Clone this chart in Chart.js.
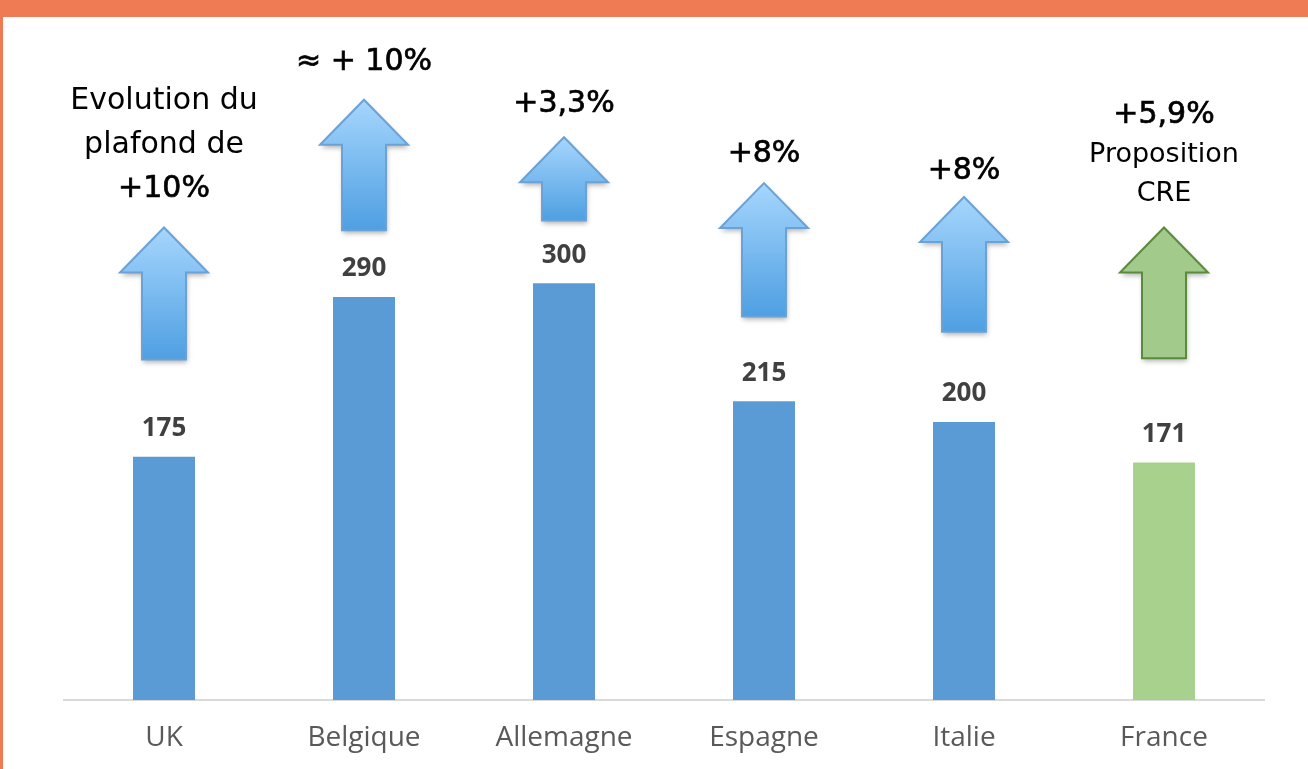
<!DOCTYPE html>
<html>
<head>
<meta charset="utf-8">
<script src="https://cdn.jsdelivr.net/npm/chart.js@4.4.1/dist/chart.umd.min.js"></script>
<style>
html,body{margin:0;padding:0;background:#fff;}
canvas{display:block;}
</style>
</head>
<body>
<canvas id="c" width="1308" height="769"></canvas>
<script>
// ---- data ----
const categories = ['UK', 'Belgique', 'Allemagne', 'Espagne', 'Italie', 'France'];
const plafonds = [175, 290, 300, 215, 200, 171];
const evolutionTexts = [
  ['Evolution du', 'plafond de', '+10%'],
  ['\u2248 + 10%'],
  ['+3,3%'],
  ['+8%'],
  ['+8%'],
  ['+5,9%', 'Proposition', 'CRE']
];
const arrowBase = [245, 338, 345, 276, 265, 246];
const arrowTip = [340, 432, 405, 372, 362, 340];
const isProposal = [false, false, false, false, false, true];

const BLUE = '#5b9bd5', GREEN = '#a9d18e';
const textGap = [38, 37, 33, 29, 26, 34]; // px between arrow tip and its caption

const decorPlugin = {
  id: 'decor',
  beforeDraw(chart) {
    const ctx = chart.ctx;
    ctx.save();
    ctx.fillStyle = '#ffffff';
    ctx.fillRect(0, 0, chart.width, chart.height);
    ctx.fillStyle = '#ef7b54';
    ctx.fillRect(0, 0, chart.width, 17);
    ctx.fillRect(0, 0, 3, chart.height);
    ctx.restore();
  },
  afterDatasetsDraw(chart) {
    const ctx = chart.ctx;
    const xs = chart.scales.x, ys = chart.scales.y;
    const meta = chart.getDatasetMeta(0);
    ctx.save();
    // value labels
    ctx.fillStyle = '#404040';
    ctx.font = 'bold 26px "Open Sans"';
    ctx.textAlign = 'center';
    ctx.textBaseline = 'middle';
    meta.data.forEach((bar, i) => {
      ctx.fillText(String(plafonds[i]), bar.x, bar.y - 28);
    });
    // arrows
    categories.forEach((c, i) => {
      const x = xs.getPixelForValue(i);
      const yt = ys.getPixelForValue(arrowTip[i]);
      const yb = ys.getPixelForValue(arrowBase[i]);
      const headH = 45, headW = 44, shaftW = 22;
      ctx.save();
      ctx.beginPath();
      ctx.moveTo(x, yt);
      ctx.lineTo(x + headW, yt + headH);
      ctx.lineTo(x + shaftW, yt + headH);
      ctx.lineTo(x + shaftW, yb);
      ctx.lineTo(x - shaftW, yb);
      ctx.lineTo(x - shaftW, yt + headH);
      ctx.lineTo(x - headW, yt + headH);
      ctx.closePath();
      let fill, stroke;
      if (isProposal[i]) {
        fill = '#a2cb8b';
        stroke = '#5a8a3c';
      } else {
        const g = ctx.createLinearGradient(0, yt, 0, yb);
        g.addColorStop(0, '#a6d6fd');
        g.addColorStop(1, '#4e9fe2');
        fill = g;
        stroke = '#6aa2d6';
      }
      ctx.shadowColor = 'rgba(0,0,0,0.3)';
      ctx.shadowBlur = 5;
      ctx.shadowOffsetX = 1;
      ctx.shadowOffsetY = 3;
      ctx.fillStyle = fill;
      ctx.fill();
      ctx.shadowColor = 'transparent';
      ctx.lineWidth = 2;
      ctx.strokeStyle = stroke;
      ctx.stroke();
      ctx.restore();
      // texts above arrow
      const lines = evolutionTexts[i];
      ctx.fillStyle = '#000000';
      ctx.strokeStyle = '#000000';
      ctx.textAlign = 'center';
      ctx.textBaseline = 'middle';
      let y = yt - textGap[i];
      for (let k = lines.length - 1; k >= 0; k--) {
        const t = lines[k];
        const isPct = t.indexOf('%') >= 0;
        if (isProposal[i] && !isPct) {
          ctx.font = '27px "DejaVu Sans"';
        } else {
          ctx.font = '30px "DejaVu Sans"';
        }
        ctx.fillText(t, x, y);
        if (isPct) {
          ctx.lineWidth = 0.7;
          ctx.strokeText(t, x, y);
        }
        y -= isProposal[i] ? 39 : 44;
      }
    });
    ctx.restore();
  }
};

new Chart(document.getElementById('c'), {
  type: 'bar',
  data: {
    labels: categories,
    datasets: [{
      data: plafonds,
      backgroundColor: isProposal.map(p => p ? GREEN : BLUE),
      barPercentage: 0.31,
      categoryPercentage: 1.0
    }]
  },
  options: {
    responsive: false,
    animation: false,
    devicePixelRatio: 1,
    layout: { padding: { left: 64, right: 44, top: 33, bottom: 14 } },
    plugins: { legend: { display: false }, tooltip: { enabled: false } },
    scales: {
      x: {
        grid: { display: false, drawTicks: false },
        border: { display: true, color: '#d9d9d9', width: 2 },
        ticks: { color: '#595959', font: { family: 'Open Sans', size: 28 }, padding: 21 },
        afterFit(scale) { scale.height = 55; }
      },
      y: { display: false, min: 0, max: 480 }
    }
  },
  plugins: [decorPlugin]
});
</script>
</body>
</html>
